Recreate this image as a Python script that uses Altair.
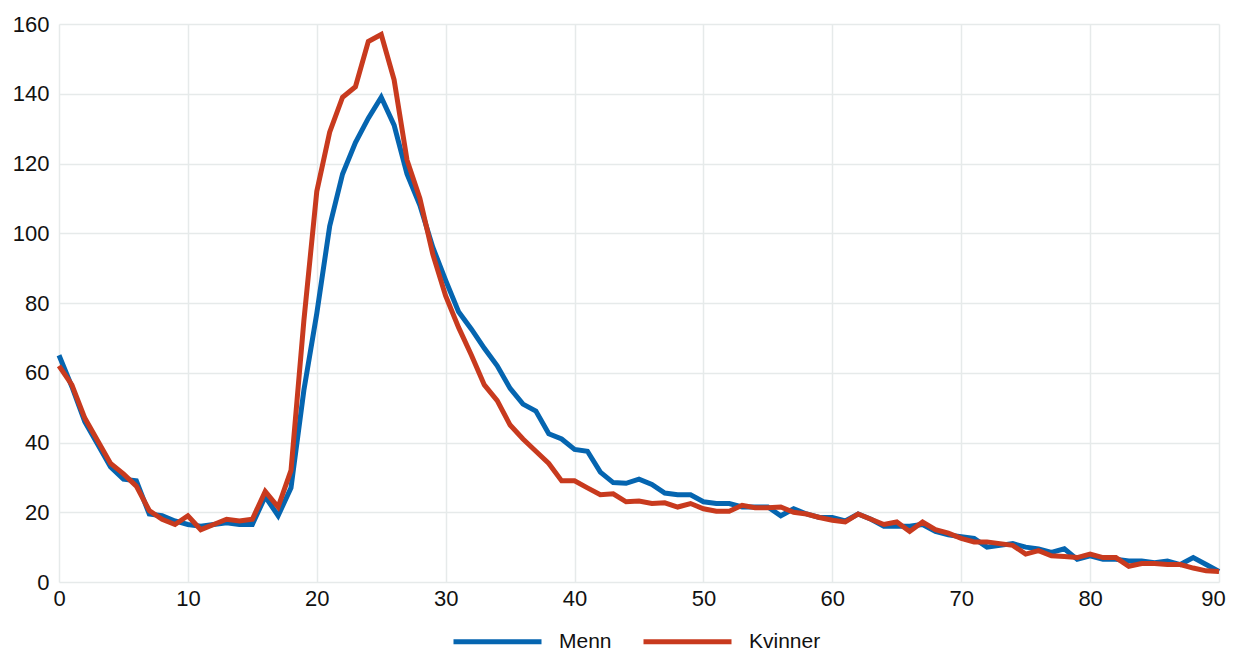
import altair as alt
import pandas as pd

ages = list(range(0, 91))

menn = [65, 56, 46, 39.5, 33, 29.5, 29, 19.5, 19, 17.5,
        16.5, 16, 16.5, 17, 16.5, 16.5, 24.5, 19, 27, 55,
        77, 102, 117, 126, 133, 139, 131, 117, 108, 96,
        86.5, 77.5, 72.5, 67, 62, 55.5, 51, 49, 42.5, 41,
        38, 37.5, 31.5, 28.5, 28.3, 29.5, 28, 25.5, 25, 25,
        23, 22.5, 22.5, 21.5, 21.5, 21.5, 19, 21, 19.5, 18.5,
        18.5, 17.5, 19.5, 18, 16, 16, 16, 16.5, 14.5, 13.5,
        13, 12.5, 10, 10.5, 11, 10, 9.5, 8.5, 9.5, 6.5,
        7.5, 6.5, 6.5, 6, 6, 5.5, 6, 5, 7, 5,
        3]

kvinner = [62, 56.5, 47, 40.5, 34, 31, 27.5, 20.5, 18, 16.5,
           19, 15, 16.5, 18, 17.5, 18, 26, 21.5, 32, 75,
           112, 129, 139, 142, 155, 157, 144, 121, 110, 94,
           82, 73, 65, 56.5, 52, 45, 41, 37.5, 34, 29,
           29, 27, 25, 25.3, 23, 23.2, 22.5, 22.7, 21.5, 22.5,
           21, 20.3, 20.3, 22, 21.3, 21.3, 21.5, 20, 19.5, 18.5,
           17.7, 17.2, 19.5, 18, 16.5, 17.2, 14.5, 17.2, 15, 14,
           12.5, 11.5, 11.5, 11, 10.5, 8, 9, 7.5, 7.3, 7,
           8, 7, 7, 4.5, 5.3, 5.3, 5, 5, 4, 3.2,
           3]

series_names = ["Menn", "Kvinner"]
series_colors = ["#0565b0", "#c83a1e"]

rows = []
for name, vals in zip(series_names, [menn, kvinner]):
    for a, v in zip(ages, vals):
        rows.append({"alder": a, "verdi": v, "serie": name})
df = pd.DataFrame(rows)

grid = "#e6eaea"

chart = alt.Chart(df).mark_line(strokeWidth=5, strokeJoin="miter").encode(
    x=alt.X("alder:Q", scale=alt.Scale(domain=[0, 90], nice=False, zero=False),
            axis=alt.Axis(values=list(range(0, 91, 10)), title=None, ticks=False,
                          domain=False, labelPadding=6, labelFontSize=22,
                          labelFlush=False,
                          labelOffset={"condition": {"test": "datum.value == 90", "value": -6},
                                       "value": 0},
                          labelColor="#111111", labelFont="Liberation Sans",
                          gridColor=grid, gridWidth=1.5)),
    y=alt.Y("verdi:Q", scale=alt.Scale(domain=[0, 160], nice=False),
            axis=alt.Axis(values=list(range(0, 161, 20)), title=None, ticks=False,
                          domain=False, labelPadding=10, labelFontSize=22,
                          labelColor="#111111", labelFont="Liberation Sans",
                          gridColor=grid, gridWidth=1.5)),
    color=alt.Color("serie:N",
                    scale=alt.Scale(domain=series_names, range=series_colors),
                    sort=series_names,
                    legend=alt.Legend(title=None, orient="none", direction="horizontal",
                                      legendX=392, legendY=571, padding=0,
                                      symbolType="stroke", symbolSize=7744,
                                      symbolStrokeWidth=5, labelFontSize=21,
                                      labelFont="Liberation Sans", labelColor="#111111",
                                      labelOffset=15, columnPadding=21)),
).properties(
    width=1160, height=558,
    autosize=alt.AutoSizeParams(type="none"),
    padding={"left": 51, "top": 16, "right": 7, "bottom": 71},
).configure_view(stroke=None)

chart.save("out.html", embed_options={"renderer": "svg", "actions": False})
